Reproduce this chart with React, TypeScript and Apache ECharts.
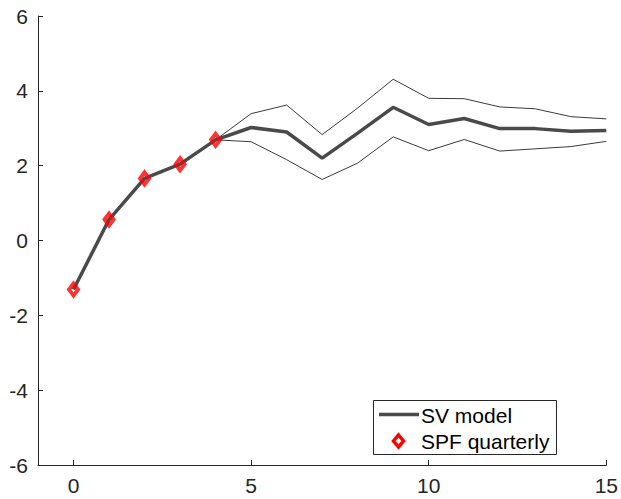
import React, { useEffect, useRef } from "react";
import * as echarts from "echarts";

const horizon = [0, 1, 2, 3, 4, 5, 6, 7, 8, 9, 10, 11, 12, 13, 14, 15];
const svMedian = [-1.31, 0.56, 1.66, 2.04, 2.69, 3.02, 2.9, 2.2, 2.87, 3.56, 3.1, 3.26, 2.99, 2.99, 2.92, 2.94];
const bandHorizon = [4, 5, 6, 7, 8, 9, 10, 11, 12, 13, 14, 15];
const svUpper = [2.69, 3.39, 3.62, 2.83, 3.54, 4.31, 3.8, 3.79, 3.57, 3.52, 3.31, 3.25];
const svLower = [2.69, 2.64, 2.16, 1.63, 2.07, 2.77, 2.4, 2.7, 2.39, 2.45, 2.51, 2.65];
const spfHorizon = [0, 1, 2, 3, 4];
const spfValues = [-1.31, 0.56, 1.66, 2.04, 2.69];
const xTicks = [0, 5, 10, 15];
const legendNames = ["SV model", "SPF quarterly"];

const FONT = "Liberation Sans, Arial, Helvetica, sans-serif";
const AXIS = "#262626";
const LINE = "#4a4a4a";

export default function App() {
  const ref = useRef<HTMLDivElement>(null);
  useEffect(() => {
    const chart = echarts.init(ref.current!, null, { renderer: "svg" });
    const zip = (xs: number[], ys: number[]) => xs.map((x, i) => [x, ys[i]]);
    chart.setOption({
      animation: false,
      backgroundColor: "#fff",
      textStyle: { fontFamily: FONT },
      grid: { left: 38, right: 13, top: 16, bottom: 34, containLabel: false },
      xAxis: {
        type: "value",
        min: -1,
        max: 15,
        splitLine: { show: false },
        axisLine: { show: true, onZero: false, lineStyle: { color: AXIS, width: 1 } },
        axisTick: { show: true, inside: true, length: 5, customValues: xTicks, lineStyle: { color: AXIS } },
        axisLabel: { customValues: xTicks, color: AXIS, fontSize: 21, fontFamily: FONT, margin: 10 },
      },
      yAxis: {
        type: "value",
        min: -6,
        max: 6,
        interval: 2,
        splitLine: { show: false },
        axisLine: { show: true, onZero: false, lineStyle: { color: AXIS, width: 1 } },
        axisTick: { show: true, inside: true, length: 5, lineStyle: { color: AXIS } },
        axisLabel: { color: AXIS, fontSize: 21, fontFamily: FONT, margin: 10 },
      },
      graphic: [
        {
          type: "group",
          z: 100,
          children: [
            {
              type: "rect",
              shape: { x: 373.5, y: 400.5, width: 183, height: 54 },
              style: { fill: "#fff", stroke: AXIS, lineWidth: 1 },
            },
            {
              type: "line",
              shape: { x1: 379, y1: 414.5, x2: 419, y2: 414.5 },
              style: { stroke: LINE, lineWidth: 3.5 },
            },
            {
              type: "polygon",
              shape: { points: [[398.5, 435], [403.5, 441], [398.5, 447], [393.5, 441]] },
              style: { fill: "#fff", stroke: "#ff0000", lineWidth: 3.5 },
            },
            {
              type: "text",
              style: { x: 421, y: 415, text: legendNames[0], fill: "#000", fontSize: 21, fontFamily: FONT, verticalAlign: "middle" },
            },
            {
              type: "text",
              style: { x: 421, y: 441, text: legendNames[1], fill: "#000", fontSize: 21, fontFamily: FONT, verticalAlign: "middle" },
            },
          ],
        },
      ],
      series: [
        {
          name: "upper",
          type: "line",
          data: zip(bandHorizon, svUpper),
          symbol: "none",
          lineStyle: { color: "#3a3a3a", width: 1 },
          z: 1,
        },
        {
          name: "lower",
          type: "line",
          data: zip(bandHorizon, svLower),
          symbol: "none",
          lineStyle: { color: "#3a3a3a", width: 1 },
          z: 1,
        },
        {
          name: legendNames[0],
          type: "line",
          data: zip(horizon, svMedian),
          symbol: "none",
          color: LINE,
          lineStyle: { color: LINE, width: 3.5 },
          z: 2,
        },
        {
          name: legendNames[1],
          type: "scatter",
          data: zip(spfHorizon, spfValues),
          symbol: "diamond",
          symbolSize: [9, 12],
          itemStyle: { color: "rgba(0,0,0,0)", borderColor: "#ff0000", borderWidth: 4 },
          z: 3,
        },
      ],
    });
    return () => chart.dispose();
  }, []);
  return <div ref={ref} style={{ width: 621, height: 499, position: "absolute", left: 0, top: 0 }} />;
}
